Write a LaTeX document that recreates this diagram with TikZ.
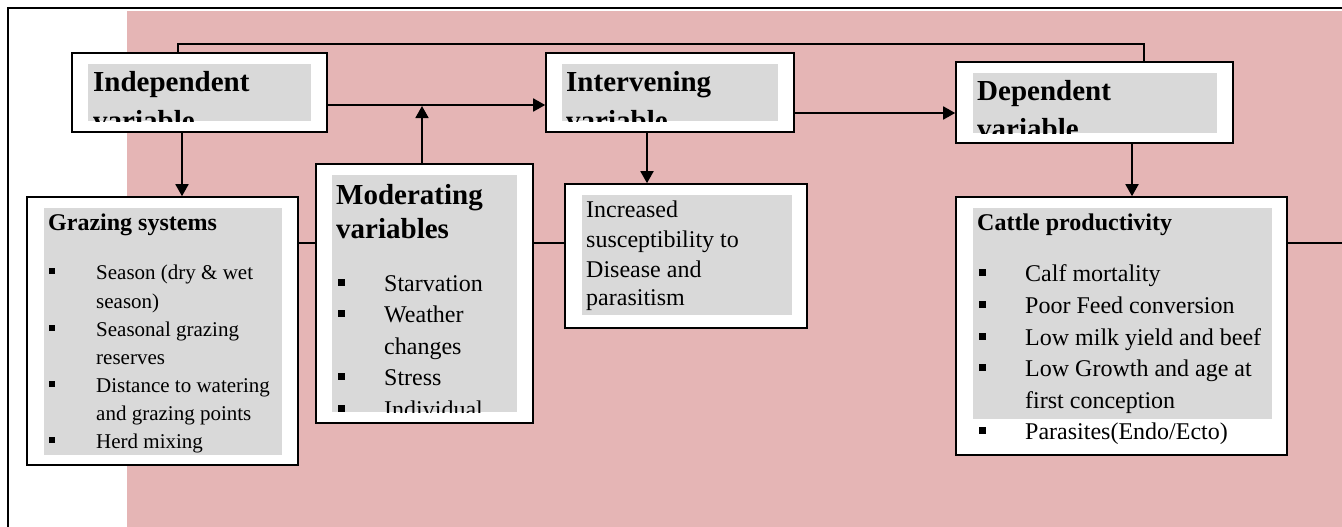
\documentclass[tikz,border=0pt]{standalone}
\usepackage{fontspec}
\setmainfont{Liberation Serif}
\usetikzlibrary{arrows.meta}
\definecolor{pinkbg}{HTML}{E5B5B5}
\definecolor{greybg}{HTML}{D9D9D9}
\begin{document}
\begin{tikzpicture}[x=1pt,y=-1pt,
  box/.style={draw,fill=white,line width=1.6pt,inner sep=0pt},
  grey/.style={fill=greybg},
  conn/.style={line width=1.8pt},
  arr/.style={conn,-{Triangle[length=12pt,width=13pt]}},
  ttl/.style={anchor=base west,inner sep=0pt,font=\bfseries\fontsize{29}{36}\selectfont},
  sub/.style={anchor=base west,inner sep=0pt,font=\bfseries\fontsize{24}{28}\selectfont},
  txs/.style={anchor=base west,inner sep=0pt,font=\fontsize{21}{28}\selectfont},
  txl/.style={anchor=base west,inner sep=0pt,font=\fontsize{24}{30}\selectfont},
  bul/.style={anchor=base west,inner sep=0pt,font=\fontsize{21}{28}\selectfont}]
\useasboundingbox (0,0) rectangle (1342,527);
\clip (0,0) rectangle (1342,527);
\fill[pinkbg] (127,11) rectangle (1342,527);
\draw[line width=2.4pt] (8,8) rectangle (1360,545);

% boxes
\node[box,minimum width=255pt,minimum height=79pt] (ind) at (199.5,92.5) {};
\node[box,minimum width=248pt,minimum height=79pt] (int) at (670,92.5) {};
\node[box,minimum width=277pt,minimum height=81pt] (dep) at (1094.5,102.5) {};
\node[box,minimum width=271pt,minimum height=268pt] (graz) at (162.5,331) {};
\node[box,minimum width=217pt,minimum height=259pt] (mod) at (424.5,293.5) {};
\node[box,minimum width=242pt,minimum height=144pt] (sus) at (686,256) {};
\node[box,minimum width=331pt,minimum height=258pt] (cat) at (1121.5,326) {};

% grey panels
\fill[grey] (88,64) rectangle (311,121);
\fill[grey] (562,64) rectangle (778,121);
\fill[grey] (973,73) rectangle (1217,133);
\fill[grey] (44,208) rectangle (282,455);
\fill[grey] (332,175) rectangle (517,412);
\fill[grey] (582,195) rectangle (792,315);
\fill[grey] (973,208) rectangle (1272,419);

% headings (clipped)
\begin{scope}
\clip (88,64) rectangle (311,121);
\node[ttl] (indA) at (93,92) {Independent};
\node[ttl] (indB) at (93,130) {variable};
\end{scope}
\begin{scope}
\clip (562,64) rectangle (778,121);
\node[ttl] (intA) at (566,92) {Intervening};
\node[ttl] (intB) at (566,130) {variable};
\end{scope}
\begin{scope}
\clip (973,73) rectangle (1217,133);
\node[ttl] (depA) at (977,100) {Dependent};
\node[ttl] (depB) at (977,138) {variable};
\end{scope}

% grazing systems
\node[sub] (gT) at (48,230) {Grazing systems};
\node[bul] (gb1) at (49,279) {\rule[5pt]{6pt}{6pt}};
\node[txs] (g1) at (96,279) {Season (dry \& wet};
\node[txs] (g2) at (96,308) {season)};
\node[bul] (gb3) at (49,336) {\rule[5pt]{6pt}{6pt}};
\node[txs] (g3) at (96,336) {Seasonal grazing};
\node[txs] (g4) at (96,364) {reserves};
\node[bul] (gb5) at (49,392) {\rule[5pt]{6pt}{6pt}};
\node[txs] (g5) at (96,392) {Distance to watering};
\node[txs] (g6) at (96,420) {and grazing points};
\node[bul] (gb7) at (49,448) {\rule[5pt]{6pt}{6pt}};
\node[txs] (g7) at (96,448) {Herd mixing};

% moderating variables
\begin{scope}
\clip (332,175) rectangle (517,412);
\node[ttl] (mA) at (336,204) {Moderating};
\node[ttl] (mB) at (336,238) {variables};
\node[bul] (mb1) at (338,291) {\rule[5.5pt]{7pt}{7pt}};
\node[txl] (m1) at (384,291) {Starvation};
\node[bul] (mb2) at (338,322) {\rule[5.5pt]{7pt}{7pt}};
\node[txl] (m2) at (384,322) {Weather};
\node[txl] (m3) at (384,354) {changes};
\node[bul] (mb4) at (338,385) {\rule[5.5pt]{7pt}{7pt}};
\node[txl] (m4) at (384,385) {Stress};
\node[bul] (mb5) at (338,417) {\rule[5.5pt]{7pt}{7pt}};
\node[txl] (m5) at (384,417) {Individual};
\end{scope}

% susceptibility
\node[txl] (s1) at (586,217) {Increased};
\node[txl] (s2) at (586,247) {susceptibility to};
\node[txl] (s3) at (586,277) {Disease and};
\node[txl] (s4) at (586,305) {parasitism};

% cattle productivity
\node[sub] (cT) at (977,230) {Cattle productivity};
\node[bul] (cb1) at (979,281) {\rule[5.5pt]{7pt}{7pt}};
\node[txl] (c1) at (1025,281) {Calf mortality};
\node[bul] (cb2) at (979,313) {\rule[5.5pt]{7pt}{7pt}};
\node[txl] (c2) at (1025,313) {Poor Feed conversion};
\node[bul] (cb3) at (979,345) {\rule[5.5pt]{7pt}{7pt}};
\node[txl] (c3) at (1025,345) {Low milk yield and beef};
\node[bul] (cb4) at (979,376) {\rule[5.5pt]{7pt}{7pt}};
\node[txl] (c4) at (1025,376) {Low Growth and age at};
\node[txl] (c5) at (1025,408) {first conception};
\node[bul] (cb6) at (979,439) {\rule[5.5pt]{7pt}{7pt}};
\node[txl] (c6) at (1025,439) {Parasites(Endo/Ecto)};

% helper coordinates
\coordinate (yA) at (0,105);
\coordinate (yB) at (0,113);
\coordinate (yC) at (0,243);
\coordinate (xA) at (182,0);
\coordinate (xB) at (647,0);
\coordinate (xC) at (1132,0);
\coordinate (xM) at (422,0);
\coordinate (topL) at (178,44);
\coordinate (topR) at (1144,44);
\coordinate (jM) at (422,106);
\coordinate (rEdge) at (1342,243);

% connectors
\draw[conn] (ind.north -| topL) -- (topL) -- (topR) -- (dep.north -| topR);
\draw[arr] (ind.east |- yA) -- (int.west |- yA);
\draw[arr] (int.east |- yB) -- (dep.west |- yB);
\draw[arr] (mod.north -| xM) -- (jM);
\draw[arr] (ind.south -| xA) -- (graz.north -| xA);
\draw[arr] (int.south -| xB) -- (sus.north -| xB);
\draw[arr] (dep.south -| xC) -- (cat.north -| xC);
\draw[conn] (graz.east |- yC) -- (mod.west |- yC);
\draw[conn] (mod.east |- yC) -- (sus.west |- yC);
\draw[conn] (cat.east |- yC) -- (rEdge);
\end{tikzpicture}
\end{document}
